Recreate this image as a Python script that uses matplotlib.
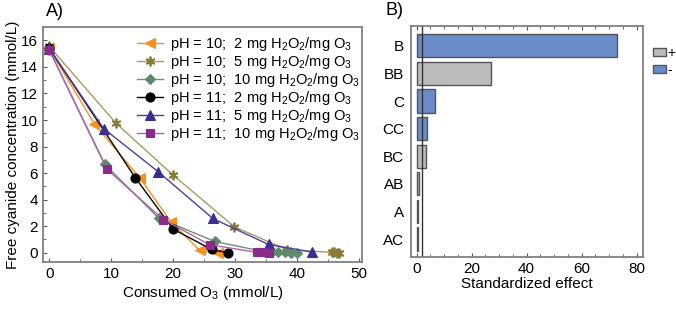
import numpy as np
import matplotlib
matplotlib.use("Agg")
import matplotlib.pyplot as plt
from matplotlib.patches import Patch

plt.rcParams['font.family'] = ['Liberation Sans', 'DejaVu Sans']
plt.rcParams['mathtext.fontset'] = 'custom'
plt.rcParams['mathtext.rm'] = 'Liberation Sans'
plt.rcParams['mathtext.default'] = 'regular'
plt.rcParams['font.size'] = 11

# panel A: free cyanide vs consumed ozone
x_ph10_2 = [0, 7.3, 14.7, 19.6, 24.3, 27.3]
y_ph10_2 = [15.4, 9.7, 5.6, 2.35, 0.17, 0.0]
x_ph10_5 = [0, 10.8, 20.0, 29.9, 38.4, 45.6, 46.0, 46.4, 46.8]
y_ph10_5 = [15.55, 9.75, 5.85, 1.95, 0.22, 0.03, 0.02, 0.01, 0.0]
x_ph10_10 = [0, 9.0, 17.7, 26.7, 35.0, 36.0, 37.0, 38.0, 39.0, 40.0]
y_ph10_10 = [15.3, 6.65, 2.6, 0.85, 0.05, 0.04, 0.03, 0.02, 0.01, 0.0]
x_ph11_2 = [0, 13.9, 20.0, 26.2, 28.8]
y_ph11_2 = [15.4, 5.65, 1.78, 0.25, 0.0]
x_ph11_5 = [0, 8.8, 17.6, 26.4, 35.4, 42.4]
y_ph11_5 = [15.4, 9.35, 6.1, 2.58, 0.62, 0.05]
x_ph11_10 = [0, 9.3, 18.4, 25.9, 33.5, 34.5, 35.5]
y_ph11_10 = [15.3, 6.3, 2.5, 0.6, 0.03, 0.02, 0.0]

labels_a = [r'pH = 10;  2 mg H$_2$O$_2$/mg O$_3$',
            r'pH = 10;  5 mg H$_2$O$_2$/mg O$_3$',
            r'pH = 10;  10 mg H$_2$O$_2$/mg O$_3$',
            r'pH = 11;  2 mg H$_2$O$_2$/mg O$_3$',
            r'pH = 11;  5 mg H$_2$O$_2$/mg O$_3$',
            r'pH = 11;  10 mg H$_2$O$_2$/mg O$_3$']

# panel B: Pareto chart of standardized effects
factors = ['B', 'BB', 'C', 'CC', 'BC', 'AB', 'A', 'AC']
effects = [73.0, 27.2, 6.9, 3.9, 3.3, 0.8, 0.6, 0.5]
signs = ['-', '+', '-', '-', '+', '+', '+', '+']
t_crit = 1.9

fig = plt.figure(figsize=(6.76, 3.14), dpi=100)
ax = fig.add_axes([0.0636, 0.1656, 0.472, 0.748])

series = [
    (x_ph10_2, y_ph10_2, '<', '#f7901e', '#f7901e', 6.5),
    (x_ph10_5, y_ph10_5, (6, 2, 0), '#a89a62', '#8a7a35', 7),
    (x_ph10_10, y_ph10_10, 'D', '#6f8f78', '#5e8a6c', 5.5),
    (x_ph11_2, y_ph11_2, 'o', '#000000', '#000000', 6.5),
    (x_ph11_5, y_ph11_5, '^', '#4a3fa0', '#3a2f90', 6.5),
    (x_ph11_10, y_ph11_10, 's', '#b060b0', '#8a2a8a', 5.5),
]
for (xs, ys, mk, lc, mc, ms), lab in zip(series, labels_a):
    ax.plot(xs, ys, color=lc, lw=1.0, marker=mk, ms=ms, mfc=mc, mec=mc,
            mew=1.3 if isinstance(mk, tuple) else 0.8, label=lab)

ax.set_xlim(-1, 50.5)
ax.set_ylim(-0.7, 17)
ax.set_xticks(np.arange(0, 51, 10))
ax.set_yticks(np.arange(0, 17, 2))
ax.set_xticks(np.arange(5, 50, 10), minor=True)
ax.set_yticks(np.arange(1, 17, 2), minor=True)
ax.tick_params(direction='in', which='both', length=3, color='#555555')
ax.tick_params(which='minor', length=2)
for s in ax.spines.values():
    s.set_color('#808080')
    s.set_linewidth(1.3)
ax.set_xlabel(r'Consumed O$_3$ (mmol/L)', labelpad=2)
ax.set_ylabel('Free cyanide concentration (mmol/L)', labelpad=1)
ax.text(0.01, 1.03, 'A)', transform=ax.transAxes, fontsize=13, ha='left', va='bottom')
ax.legend(loc='upper left', bbox_to_anchor=(0.295, 0.965), frameon=False,
          handlelength=1.8, handletextpad=0.45, labelspacing=0.0, borderpad=0,
          borderaxespad=0, fontsize=10.5)

bx = fig.add_axes([0.608, 0.1815, 0.343, 0.7357])
pos = np.arange(len(factors))
cols = ['#6a8cc8' if s == '-' else '#bcbcbc' for s in signs]
bx.barh(pos, effects, height=0.84, color=cols, edgecolor='#555555', linewidth=1.0)
bx.axvline(t_crit, color='#333333', lw=1.0)
bx.set_yticks(pos)
bx.set_yticklabels(factors)
bx.set_ylim(7.65, -0.72)
bx.set_xlim(-2, 82.3)
bx.set_xticks(np.arange(0, 81, 20))
bx.set_xticks(np.arange(0, 81, 5), minor=True)
bx.tick_params(axis='x', direction='in', which='both', top=True, length=3, color='#555555')
bx.tick_params(axis='x', which='minor', length=2)
bx.tick_params(axis='y', length=0, pad=5)
for s in bx.spines.values():
    s.set_color('#808080')
    s.set_linewidth(1.3)
bx.set_xlabel('Standardized effect', labelpad=1)
bx.text(-0.11, 1.03, 'B)', transform=bx.transAxes, fontsize=13, ha='left', va='bottom')

handles = [Patch(facecolor='#bcbcbc', edgecolor='#555555', label='+'),
           Patch(facecolor='#6a8cc8', edgecolor='#555555', label='-')]
fig.legend(handles=handles, loc='upper left', bbox_to_anchor=(0.956, 0.875),
           frameon=False, handlelength=0.9, handleheight=0.55, handletextpad=0.15,
           labelspacing=0.2, borderpad=0, fontsize=10)

fig.savefig('out.png', dpi=100)
